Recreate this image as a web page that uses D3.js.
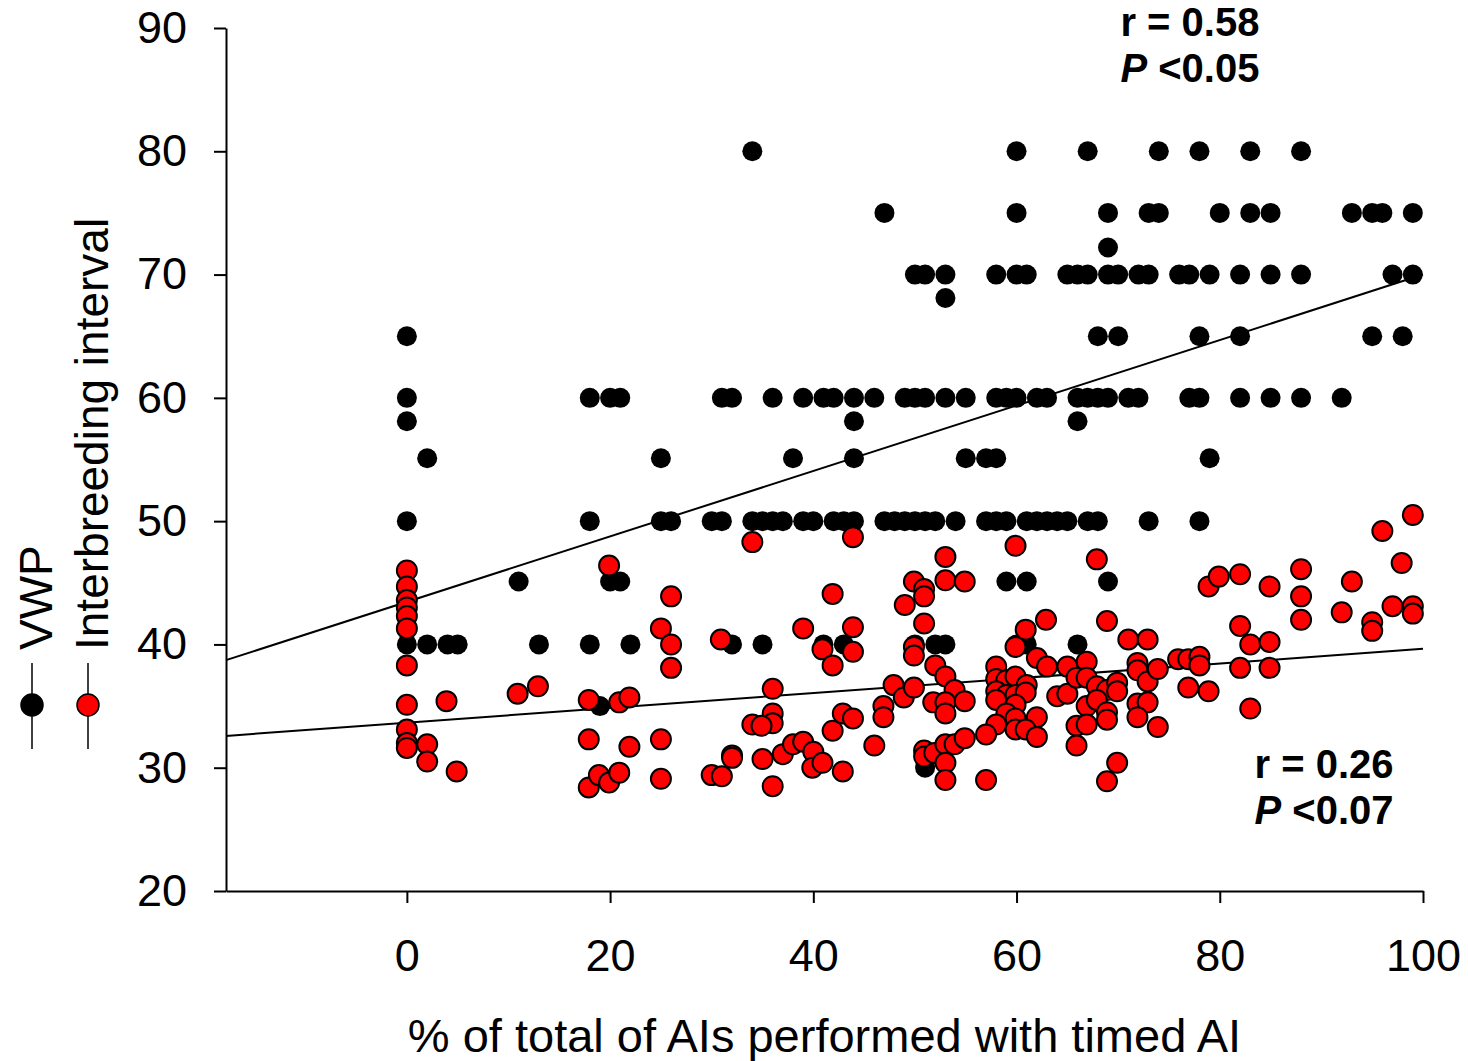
<!DOCTYPE html>
<meta charset="utf-8">
<style>

body { margin: 0; background: #fff; }

text {
  font-family: Arial, "Liberation Sans", sans-serif;
  fill: #000;
}

.axis path,
.axis line {
  stroke: #000;
  stroke-width: 2px;
}

.axis text {
  font-size: 45px;
}

.fit {
  fill: none;
  stroke: #000;
  stroke-width: 2px;
}

.vwp circle {
  fill: #000;
}

.interval circle {
  fill: #ff0000;
  stroke: #000;
  stroke-width: 2px;
}

.stat {
  font-size: 40px;
  font-weight: bold;
}

</style>
<body>
<svg width="1468" height="1061"></svg>
<script src="https://d3js.org/d3.v7.min.js"></script>
<script>

// tick values
var xTicks = [0, 20, 40, 60, 80, 100];
var yTicks = [20, 30, 40, 50, 60, 70, 80, 90];

// VWP (black) points: [% timed AI, days]
var vwpPoints = [
  [34, 80], [60, 80], [67, 80], [74, 80], [78, 80], [83, 80], [88, 80],
  [47, 75], [60, 75], [69, 75], [73, 75], [74, 75], [80, 75], [83, 75], [85, 75],
  [93, 75], [95, 75], [96, 75], [99, 75],
  [69, 72.2],
  [50, 70], [51, 70], [53, 70], [58, 70], [60, 70], [61, 70], [65, 70], [66, 70],
  [67, 70], [69, 70], [70, 70], [72, 70], [73, 70], [76, 70], [77, 70], [79, 70],
  [82, 70], [85, 70], [88, 70], [97, 70], [99, 70],
  [53, 68.1],
  [0, 65], [68, 65], [70, 65], [78, 65], [82, 65], [95, 65], [98, 65],
  [0, 60], [18, 60], [20, 60], [21, 60], [31, 60], [32, 60], [36, 60], [39, 60],
  [41, 60], [42, 60], [44, 60], [46, 60], [49, 60], [50, 60], [51, 60], [53, 60],
  [55, 60], [58, 60], [59, 60], [60, 60], [62, 60], [63, 60], [66, 60], [67, 60],
  [68, 60], [69, 60], [71, 60], [72, 60], [77, 60], [78, 60], [82, 60], [85, 60],
  [88, 60], [92, 60],
  [0, 58.1], [44, 58.1], [66, 58.1],
  [2, 55.1], [25, 55.1], [38, 55.1], [44, 55.1], [55, 55.1], [57, 55.1], [58, 55.1], [79, 55.1],
  [0, 50], [18, 50], [25, 50], [26, 50], [30, 50], [31, 50], [34, 50], [35, 50],
  [36, 50], [37, 50], [39, 50], [40, 50], [42, 50], [43, 50], [44, 50], [47, 50],
  [48, 50], [49, 50], [50, 50], [51, 50], [52, 50], [54, 50], [57, 50], [58, 50],
  [59, 50], [61, 50], [62, 50], [63, 50], [64, 50], [65, 50], [67, 50], [68, 50],
  [73, 50], [78, 50],
  [11, 45.1], [20, 45.1], [21, 45.1], [59, 45.1], [61, 45.1], [69, 45.1],
  [0, 40], [2, 40], [4, 40], [5, 40], [13, 40], [18, 40], [22, 40], [32, 40],
  [35, 40], [41, 40], [43, 40], [50, 40], [52, 40], [53, 40], [60, 40], [61, 40], [66, 40],
  [19, 35], [51, 30]
];

// Interbreeding interval (red) points: [% timed AI, days]
var intervalPoints = [
  [0, 46.0], [0, 44.7], [0, 43.6], [0, 43.0], [0, 42.3], [0, 41.3], [0, 38.3],
  [0, 35.1], [0, 33.1], [0, 32.0], [0, 31.6],
  [2, 31.9], [2, 30.5], [3.9, 35.4], [4.9, 29.7], [10.9, 36.0], [12.9, 36.6],
  [17.9, 35.5], [17.9, 32.3], [17.9, 28.4], [18.9, 29.4], [19.9, 28.8], [19.9, 46.4],
  [20.9, 35.3], [21.9, 35.7], [21.9, 31.7], [20.9, 29.6],
  [25, 41.3], [26, 40.0], [26, 38.1], [26, 43.9], [25, 32.3], [25, 29.1],
  [34, 48.3], [43.9, 48.7], [30.9, 40.4], [39, 41.3], [41.9, 44.1], [43.9, 41.4],
  [43.9, 39.4], [40.9, 39.6], [41.9, 38.3],
  [36, 36.4], [36, 34.4], [36, 33.6], [34, 33.5], [34.9, 33.4], [32, 31.0], [32, 30.8],
  [30, 29.4], [31, 29.3], [35, 30.7], [36, 28.5], [37, 31.1], [38, 31.9], [39, 32.1],
  [40, 31.3], [39.9, 30.0], [40.9, 30.4], [42.9, 29.7], [41.9, 33.0], [42.9, 34.4],
  [43.9, 34.0], [46, 31.8], [46.9, 35.0], [46.9, 34.1], [47.9, 36.7], [48.9, 35.7],
  [49.9, 36.5], [49, 43.2], [49.9, 45.1], [50.9, 44.5], [50.9, 43.9], [53, 47.1],
  [53, 45.2], [50.9, 41.7], [49.9, 39.8], [49.9, 39.1], [52, 38.3], [53, 37.4],
  [53.9, 36.3], [51.8, 35.3], [53, 35.3], [53, 34.4], [50.9, 31.4], [50.9, 30.9],
  [51.9, 31.2], [53, 31.9], [53.9, 31.9], [53, 30.4], [53, 29.0],
  [59.9, 48.0], [54.9, 45.1], [67.9, 46.9], [62.9, 42.0], [68.9, 41.9], [60.9, 41.2],
  [59.9, 39.8], [71, 40.4], [72.9, 40.4], [62, 38.9], [63, 38.2], [65, 38.2],
  [66.9, 38.6], [58, 38.2], [58, 37.2], [59, 37.1], [59.9, 37.4], [61, 36.7],
  [58, 36.2], [59, 35.9], [59.9, 35.9], [60.9, 36.1], [54.9, 35.4], [58, 35.5],
  [59.9, 35.1], [59, 34.4], [62, 34.1], [59.9, 34.0], [58, 33.5], [57, 32.7],
  [59.9, 33.1], [60.9, 33.1], [62, 32.5], [54.9, 32.4], [57, 29.0],
  [64, 35.8], [65, 36.0], [65.9, 37.3], [66.9, 37.3], [67.9, 36.6], [68.9, 36.3],
  [69.9, 36.9], [69.9, 36.2], [66.9, 35.0], [67.9, 35.5], [68.9, 34.5], [68.9, 33.9],
  [65.9, 33.4], [66.9, 33.5], [65.9, 31.8], [69.9, 30.4], [68.9, 28.9],
  [71.9, 38.5], [71.9, 37.9], [72.9, 37.0], [73.9, 38.0], [71.9, 35.2], [72.9, 35.3],
  [71.9, 34.1], [73.9, 33.3], [75.9, 38.8], [76.9, 38.8], [78, 39.0], [78, 38.3],
  [76.9, 36.5], [78.9, 36.2], [78.9, 44.7], [79.9, 45.5],
  [82, 45.7], [82, 41.5], [82, 38.1], [84.9, 44.7], [88, 46.1], [88, 43.9], [88, 42.0],
  [83, 40.0], [84.9, 40.2], [84.9, 38.1], [83, 34.8],
  [93, 45.1], [92, 42.6], [95, 41.8], [95, 41.1], [97, 43.1], [96, 49.2], [97.9, 46.6],
  [99, 50.5], [99, 43.1], [99, 42.5]
];

// regression lines: intercept, slope
var vwpFit = [43.45, 0.2655];
var intervalFit = [33.65, 0.060];

// legend entries
var legendNames = ["VWP", "Interbreeding interval"];

// set the dimensions and margins of the graph
var margin = {top: 28, right: 45, bottom: 170, left: 226},
    width = 1468 - margin.left - margin.right,
    height = 1061 - margin.top - margin.bottom;

// set the ranges
var x = d3.scaleLinear().domain([-17.8, 100]).range([0, width]);
var y = d3.scaleLinear().domain([20, 90]).range([height, 0]);

var svg = d3.select("svg")
  .append("g")
    .attr("transform", "translate(" + margin.left + "," + margin.top + ")");

// fitted lines, drawn under the points
var fitLine = d3.line()
    .x(function(d) { return x(d[0]); })
    .y(function(d) { return y(d[1]); });

[vwpFit, intervalFit].forEach(function(f) {
  var ends = x.domain().map(function(v) { return [v, f[0] + f[1] * v]; });
  svg.append("path")
      .datum(ends)
      .attr("class", "fit")
      .attr("d", fitLine);
});

// black VWP points
svg.append("g")
    .attr("class", "vwp")
  .selectAll("circle")
  .data(vwpPoints)
  .enter().append("circle")
    .attr("r", 10)
    .attr("cx", function(d) { return x(d[0]); })
    .attr("cy", function(d) { return y(d[1]); });

// red interval points on top
svg.append("g")
    .attr("class", "interval")
  .selectAll("circle")
  .data(intervalPoints)
  .enter().append("circle")
    .attr("r", 10)
    .attr("cx", function(d) { return x(d[0]); })
    .attr("cy", function(d) { return y(d[1]); });

// Add the X Axis
var xAxis = svg.append("g")
    .attr("class", "axis")
    .attr("transform", "translate(0," + height + ")")
    .call(d3.axisBottom(x).tickValues(xTicks).tickSize(12).tickSizeOuter(0).tickPadding(36));
xAxis.selectAll("text").attr("dy", "0.71em");

// Add the Y Axis
svg.append("g")
    .attr("class", "axis")
    .call(d3.axisLeft(y).tickValues(yTicks).tickSize(12).tickSizeOuter(0).tickPadding(27));

// axis title
svg.append("text")
    .attr("x", width / 2)
    .attr("y", height + 161)
    .attr("text-anchor", "middle")
    .style("font-size", "47px")
    .text("% of total of AIs performed with timed AI");

// r / P annotations
function stat(xv, yTop, r, p) {
  svg.append("text")
      .attr("class", "stat")
      .attr("text-anchor", "end")
      .attr("x", x(xv))
      .attr("y", yTop)
      .text("r = " + r);
  var t2 = svg.append("text")
      .attr("class", "stat")
      .attr("text-anchor", "end")
      .attr("x", x(xv))
      .attr("y", yTop + 46);
  t2.append("tspan").style("font-style", "italic").text("P");
  t2.append("tspan").text(" <" + p);
}
stat(83.9, 8, "0.58", "0.05");
stat(97.1, 750, "0.26", "0.07");

// legend, rotated on the left
var legend = d3.select("svg").append("g");
var legendColors = ["#000", "#ff0000"];
var legendX = [32, 88];

legendNames.forEach(function(name, i) {
  var g = legend.append("g").attr("transform", "translate(" + legendX[i] + ",705)");
  g.append("line")
      .attr("y1", -42).attr("y2", 44)
      .attr("stroke", "#000").attr("stroke-width", 1.5);
  g.append("circle")
      .attr("r", 11)
      .attr("fill", legendColors[i])
      .attr("stroke", "#000")
      .attr("stroke-width", 1.5);
  legend.append("text")
      .attr("transform", "translate(" + (legendX[i] + 20) + ",650) rotate(-90)")
      .style("font-size", "46px")
      .text(name);
});

</script>
</body>
